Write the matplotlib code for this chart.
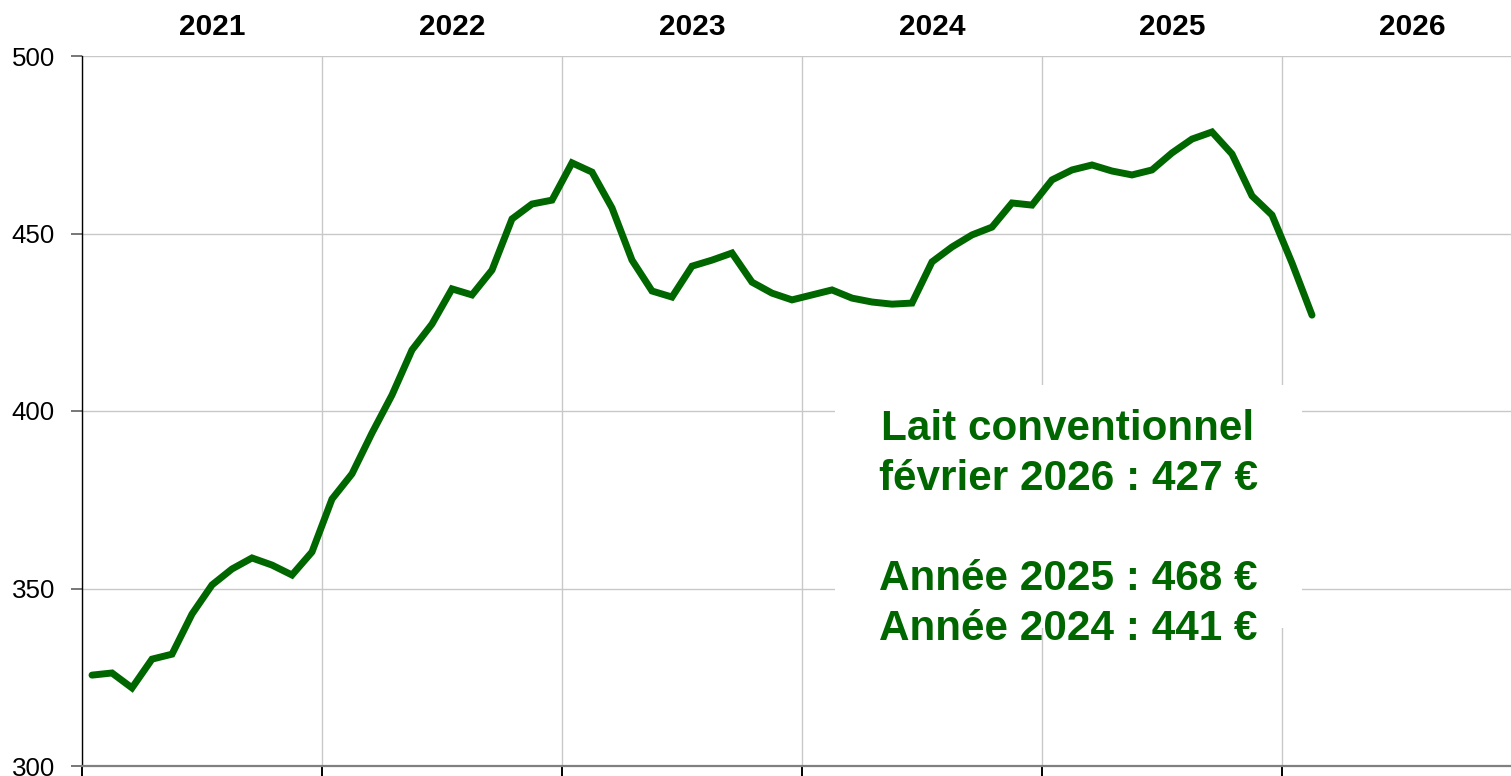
import matplotlib.pyplot as plt
import matplotlib.transforms as mtransforms
from matplotlib.patches import Rectangle

plt.rcParams['font.family'] = ['Liberation Sans', 'DejaVu Sans']

# Prix du lait conventionnel, janvier 2021 -> fevrier 2026 (EUR / 1000 L)
prix = [
    325.6, 326.2, 322.0, 330.1, 331.5, 342.8, 351.0, 355.5, 358.6, 356.6, 353.8, 360.3,  # 2021
    375.2, 382.3, 393.8, 404.5, 417.2, 424.5, 434.4, 432.7, 439.7, 454.1, 458.3, 459.4,  # 2022
    469.9, 467.3, 457.2, 442.5, 433.8, 432.1, 440.8, 442.5, 444.5, 436.3, 433.2, 431.3,  # 2023
    432.7, 434.1, 431.8, 430.7, 430.1, 430.4, 442.0, 446.2, 449.6, 451.8, 458.6, 458.0,  # 2024
    465.1, 467.9, 469.3, 467.6, 466.5, 467.9, 472.7, 476.6, 478.6, 472.4, 460.6, 455.2,  # 2025
    441.7, 427.0,  # 2026
]
annees = ["2021", "2022", "2023", "2024", "2025", "2026"]
y_ticks = [300, 350, 400, 450, 500]
encadre = "Lait conventionnel\nfévrier 2026 : 427 €\n\nAnnée 2025 : 468 €\nAnnée 2024 : 441 €"

vert = "#006600"

fig = plt.figure(figsize=(15.11, 7.76), dpi=100)
ax = fig.add_axes([82 / 1511, 10 / 776, 1429 / 1511, 710 / 776])

mois = [i + 0.5 for i in range(len(prix))]
ax.plot(mois, prix, color=vert, lw=5.0, solid_joinstyle="miter",
        solid_capstyle="round", zorder=4)

ax.set_xlim(0, 71.45)
ax.set_ylim(300, 500)
ax.set_yticks(y_ticks)
ax.set_xticks([12 * k for k in range(len(annees))])
ax.set_xticklabels([])
ax.grid(True, color="#c8c8c8", lw=1.0, zorder=0)
ax.set_axisbelow(True)

for s in ["top", "right"]:
    ax.spines[s].set_visible(False)
ax.spines["left"].set_color("black")
ax.spines["left"].set_linewidth(1.0)
ax.spines["bottom"].set_color("#808080")
ax.spines["bottom"].set_linewidth(1.6)
ax.tick_params(axis="y", direction="out", length=8, width=1.2, pad=11.5,
               labelsize=18.6, color="#606060", labelcolor="black")
ax.tick_params(axis="x", direction="out", length=10, width=1.4, colors="black")

trans = mtransforms.blended_transform_factory(ax.transData, ax.transAxes)
for k, a in enumerate(annees):
    ax.text(12 * k + 6.5, 1.041, a, transform=trans, ha="center", va="center",
            fontsize=21.5, fontweight="bold", color="black")

ax.add_patch(Rectangle((0.527, 0.194), 0.327, 0.343, transform=ax.transAxes,
                       facecolor="white", edgecolor="none", zorder=2))
ax.text(0.690, 0.334, encadre, transform=ax.transAxes, ha="center", va="center",
        fontsize=30.4, fontweight="bold", color=vert, linespacing=1.32, zorder=5)

fig.savefig("out.png", dpi=100)
